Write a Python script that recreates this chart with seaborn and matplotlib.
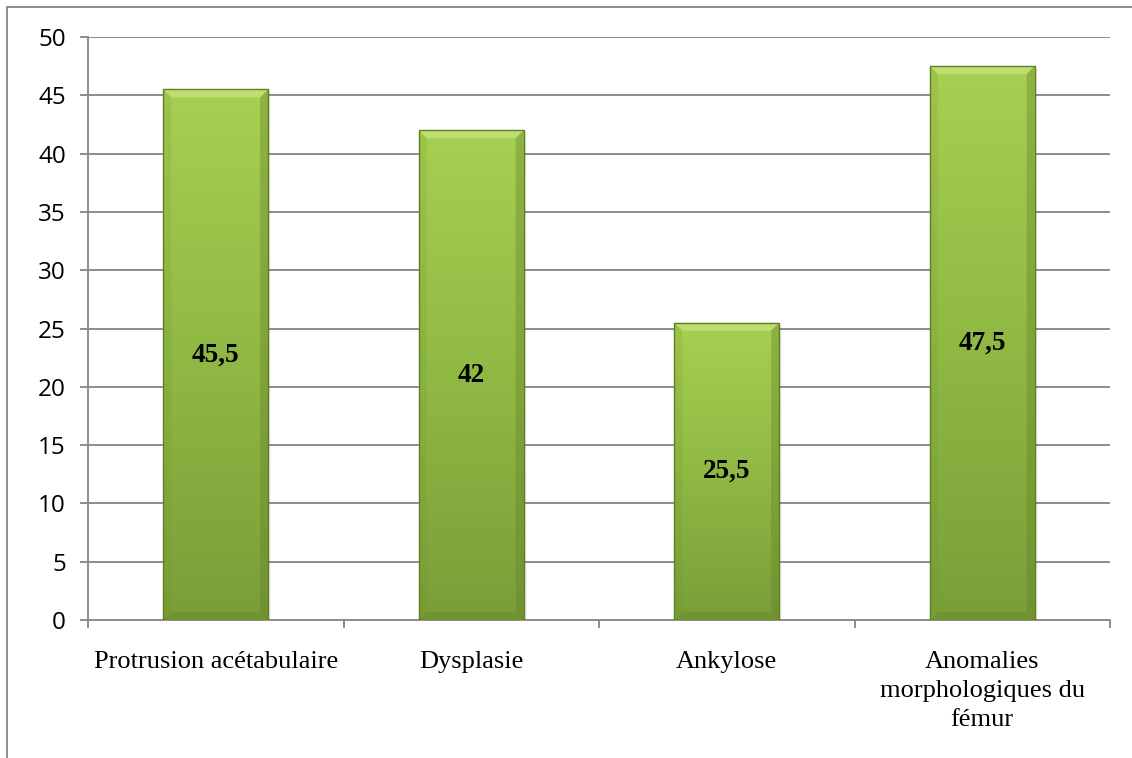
import numpy as np
import pandas as pd
import matplotlib
matplotlib.use("Agg")
import matplotlib.pyplot as plt
from matplotlib.lines import Line2D
from matplotlib.patches import Polygon, Rectangle
from matplotlib.colors import LinearSegmentedColormap
import seaborn as sns

# Data
categories = ["Protrusion acétabulaire", "Dysplasie", "Ankylose",
              "Anomalies\nmorphologiques du\nfémur"]
values = [45.5, 42, 25.5, 47.5]
value_labels = ["45,5", "42", "25,5", "47,5"]
y_ticks = [0, 5, 10, 15, 20, 25, 30, 35, 40, 45, 50]

df = pd.DataFrame({"cat": categories, "val": values})

sns.set_theme(style="white")
plt.rcParams["font.family"] = ["Open Sans", "DejaVu Sans"]

W, H, DPI = 1132, 758, 100
fig = plt.figure(figsize=(W / DPI, H / DPI), dpi=DPI)
fig.patch.set_facecolor("white")
ax = fig.add_axes([88 / W, 1 - 620 / H, (1110 - 88) / W, (620 - 37) / H])

grid_col = "#8c8c8c"
sns.barplot(data=df, x="cat", y="val", ax=ax, width=0.41,
            color="#9cc447", saturation=1, zorder=3)

ax.set_ylim(0, 50)
ax.set_xlim(-0.5, len(categories) - 0.5)
ax.set_yticks(y_ticks)
ax.set_yticklabels([str(t) for t in y_ticks])
ax.yaxis.grid(True, color=grid_col, linewidth=1.4, zorder=0)
ax.set_axisbelow(True)
ax.set_xlabel("")
ax.set_ylabel("")

for side in ["top", "right"]:
    ax.spines[side].set_visible(False)
for side in ["left", "bottom"]:
    ax.spines[side].set_color(grid_col)
    ax.spines[side].set_linewidth(1.4)

ax.tick_params(axis="y", which="major", length=6, width=1.4, color=grid_col,
               left=True, pad=10, labelsize=17.5, labelcolor="black")
# category boundaries carry the x tick marks
ax.set_xticks(np.arange(-0.5, len(categories), 1.0), minor=True)
ax.tick_params(axis="x", which="minor", length=6, width=1.4, color=grid_col,
               bottom=True)
ax.tick_params(axis="x", which="major", length=0, pad=22)
for lab in ax.get_xticklabels():
    lab.set_fontfamily(["Liberation Serif", "DejaVu Serif"])
    lab.set_fontsize(19)
    lab.set_color("black")
    lab.set_verticalalignment("top")
    lab.set_linespacing(1.42)

# Gradient fill with bevelled edges on each bar
cmap = LinearSegmentedColormap.from_list("bar", ["#7a9e38", "#90b944", "#a8cf51"])
grad = np.linspace(0, 1, 256).reshape(-1, 1)
px_x = (len(categories)) / (1110 - 88)
px_y = 50 / (620 - 37)
bev = 8
for p, lab in zip(ax.patches, value_labels):
    x0, w, h = p.get_x(), p.get_width(), p.get_height()
    p.set_facecolor("none")
    p.set_edgecolor("none")
    # soft shadow
    for k, a in enumerate([0.08, 0.05, 0.025]):
        ax.add_patch(Rectangle((x0 + (k + 1) * px_x, 0.0), w, h - (k + 1) * px_y,
                               facecolor="black", alpha=a, edgecolor="none", zorder=2))
    im = ax.imshow(grad, extent=(x0, x0 + w, 0, h), origin="lower", cmap=cmap,
                   aspect="auto", zorder=3, interpolation="bicubic")
    clip = Rectangle((x0, 0), w, h, transform=ax.transData)
    im.set_clip_path(clip)
    bx, by = bev * px_x, bev * px_y
    # top bevel (light)
    ax.add_patch(Polygon([(x0, h), (x0 + w, h), (x0 + w - bx, h - by), (x0 + bx, h - by)],
                         closed=True, facecolor="#c8e684", edgecolor="none", alpha=0.7, zorder=4))
    # left bevel
    ax.add_patch(Polygon([(x0, 0), (x0, h), (x0 + bx, h - by), (x0 + bx, by)],
                         closed=True, facecolor="#6f9330", edgecolor="none", alpha=0.18, zorder=4))
    # right bevel (dark)
    ax.add_patch(Polygon([(x0 + w, 0), (x0 + w, h), (x0 + w - bx, h - by), (x0 + w - bx, by)],
                         closed=True, facecolor="#5e7f26", edgecolor="none", alpha=0.35, zorder=4))
    # bottom bevel
    ax.add_patch(Polygon([(x0, 0), (x0 + w, 0), (x0 + w - bx, by), (x0 + bx, by)],
                         closed=True, facecolor="#5e7f26", edgecolor="none", alpha=0.3, zorder=4))
    ax.add_patch(Rectangle((x0, 0), w, h, facecolor="none", edgecolor="#5f7f25",
                           linewidth=1.0, zorder=5))
    ax.text(x0 + w / 2, h / 2, lab, ha="center", va="center", zorder=6,
            fontsize=19.5, fontweight="bold", color="black",
            family=["Liberation Serif", "DejaVu Serif"])

# Outer frame lines (top and left)
fig.add_artist(Line2D([7 / W, 1.0], [1 - 7 / H, 1 - 7 / H], color=grid_col,
                      linewidth=1.4, transform=fig.transFigure))
fig.add_artist(Line2D([7 / W, 7 / W], [0.0, 1 - 7 / H], color=grid_col,
                      linewidth=1.4, transform=fig.transFigure))

fig.savefig("out.png", dpi=DPI)
